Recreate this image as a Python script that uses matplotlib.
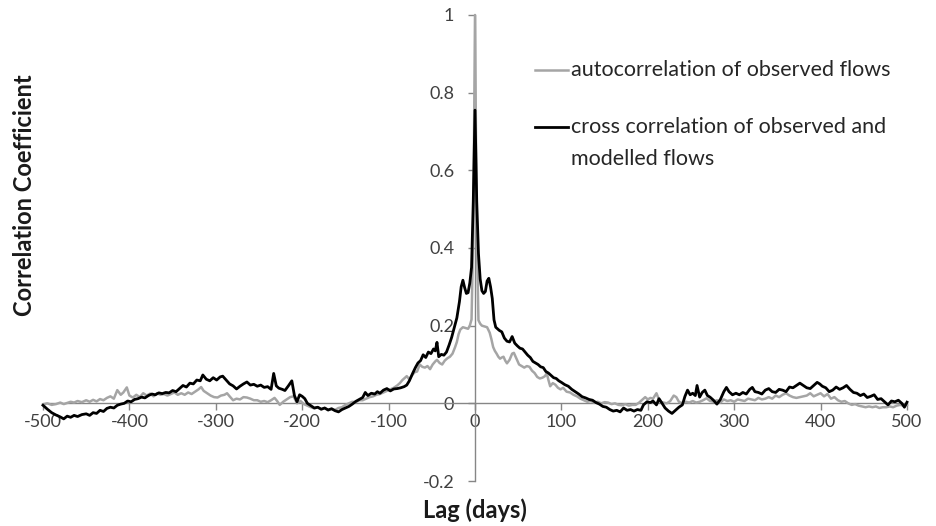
import matplotlib
matplotlib.use("Agg")
import numpy as np
from matplotlib import pyplot as plt
from matplotlib.lines import Line2D

plt.rcParams['font.family'] = ['Lato', 'DejaVu Sans']
plt.rcParams['axes.unicode_minus'] = False

#%% data (lag in days, correlation coefficient)
cross_lag = [
    -500, -495, -490, -485, -480, -476, -472, -468, -464, -460, -455, -450, -446, -442, -438, -434,
    -430, -426, -422, -418, -414, -410, -406, -402, -398, -394, -390, -386, -382, -378, -374, -370,
    -366, -362, -358, -354, -350, -346, -342, -338, -334, -330, -326, -322, -318, -315, -311, -307,
    -303, -299, -295, -292, -288, -284, -280, -276, -272, -268, -264, -260, -256, -252, -248, -244,
    -240, -236, -233, -230, -227, -223, -220, -216, -212, -209, -206, -203, -200, -197, -194, -190,
    -186, -182, -178, -174, -170, -166, -162, -158, -154, -150, -146, -142, -138, -134, -130, -127,
    -124, -120, -116, -113, -110, -106, -102, -98, -94, -90, -86, -82, -79, -76, -72, -69,
    -66, -63, -60, -57, -54, -51, -48, -46, -44, -42, -39, -36, -33, -30, -27, -24,
    -21, -18, -16, -14, -12, -10, -8, -6, -4, -2, 0, 2, 4, 6, 8, 10,
    12, 14, 16, 18, 20, 22, 24, 26, 28, 31, 34, 37, 40, 43, 46, 49,
    52, 55, 58, 61, 64, 67, 70, 73, 76, 79, 82, 85, 88, 91, 94, 97,
    100, 104, 108, 112, 116, 120, 124, 128, 132, 136, 140, 144, 148, 152, 156, 160,
    164, 168, 172, 176, 180, 184, 188, 192, 195, 199, 203, 206, 210, 213, 216, 220,
    224, 228, 232, 236, 240, 243, 246, 249, 252, 255, 257, 260, 263, 266, 269, 272,
    276, 280, 284, 288, 291, 294, 298, 302, 306, 310, 314, 318, 321, 324, 328, 332,
    336, 340, 344, 348, 352, 356, 360, 364, 368, 372, 376, 380, 384, 388, 392, 396,
    399, 402, 406, 410, 414, 418, 422, 426, 430, 434, 438, 442, 446, 450, 454, 458,
    462, 466, 470, 474, 478, 482, 486, 490, 494, 497, 500]
cross_val = [
    -0.005, -0.015, -0.024, -0.030, -0.035, -0.040, -0.033, -0.036, -0.031, -0.034, -0.029, -0.027, -0.031, -0.024, -0.026, -0.018,
    -0.021, -0.013, -0.010, -0.012, -0.005, -0.002, 0.000, 0.006, 0.004, 0.010, 0.012, 0.016, 0.014, 0.020, 0.024, 0.022,
    0.027, 0.025, 0.028, 0.027, 0.033, 0.030, 0.038, 0.046, 0.042, 0.052, 0.050, 0.060, 0.058, 0.073, 0.062, 0.058,
    0.066, 0.060, 0.068, 0.070, 0.060, 0.050, 0.045, 0.037, 0.044, 0.050, 0.055, 0.047, 0.049, 0.044, 0.047, 0.041,
    0.043, 0.036, 0.077, 0.045, 0.039, 0.036, 0.033, 0.045, 0.058, 0.020, 0.004, 0.022, 0.018, 0.012, 0.000, -0.006,
    -0.012, -0.010, -0.015, -0.012, -0.017, -0.014, -0.019, -0.022, -0.016, -0.012, -0.008, -0.002, 0.005, 0.010, 0.015, 0.028,
    0.020, 0.026, 0.024, 0.030, 0.026, 0.034, 0.038, 0.032, 0.037, 0.038, 0.040, 0.043, 0.047, 0.058, 0.078, 0.092,
    0.104, 0.110, 0.125, 0.118, 0.132, 0.128, 0.140, 0.135, 0.157, 0.120, 0.126, 0.124, 0.132, 0.150, 0.170, 0.195,
    0.220, 0.262, 0.300, 0.317, 0.298, 0.283, 0.285, 0.310, 0.350, 0.520, 0.755, 0.520, 0.386, 0.320, 0.290, 0.283,
    0.288, 0.315, 0.322, 0.300, 0.270, 0.215, 0.196, 0.192, 0.188, 0.184, 0.168, 0.160, 0.158, 0.172, 0.155, 0.148,
    0.142, 0.140, 0.132, 0.124, 0.118, 0.108, 0.104, 0.100, 0.094, 0.092, 0.082, 0.078, 0.072, 0.066, 0.064, 0.058,
    0.054, 0.048, 0.044, 0.036, 0.030, 0.024, 0.017, 0.014, 0.010, 0.008, 0.002, -0.002, -0.008, -0.010, -0.016, -0.020,
    -0.018, -0.022, -0.012, -0.018, -0.016, -0.020, -0.016, -0.018, -0.004, 0.004, 0.002, 0.006, -0.004, 0.012, 0.002, -0.012,
    -0.020, -0.026, -0.018, -0.010, -0.004, 0.018, 0.034, 0.022, 0.026, 0.020, 0.046, 0.016, 0.028, 0.034, 0.020, 0.016,
    0.008, -0.002, 0.010, 0.030, 0.041, 0.030, 0.022, 0.026, 0.022, 0.028, 0.024, 0.036, 0.041, 0.030, 0.028, 0.024,
    0.034, 0.038, 0.030, 0.028, 0.036, 0.034, 0.030, 0.042, 0.040, 0.046, 0.052, 0.046, 0.040, 0.038, 0.046, 0.054,
    0.050, 0.044, 0.040, 0.030, 0.034, 0.042, 0.036, 0.040, 0.046, 0.036, 0.028, 0.026, 0.020, 0.024, 0.015, 0.018,
    0.022, 0.010, 0.012, 0.004, -0.004, 0.006, 0.004, 0.008, 0.000, -0.010, 0.003]

auto_lag = [
    -500, -495, -490, -485, -480, -476, -472, -468, -464, -460, -455, -450, -446, -442, -438, -434,
    -430, -426, -422, -418, -414, -410, -407, -403, -400, -396, -392, -388, -384, -380, -376, -372,
    -368, -364, -360, -356, -352, -348, -344, -340, -336, -332, -328, -324, -320, -317, -314, -310,
    -306, -302, -298, -294, -290, -287, -284, -280, -276, -272, -268, -264, -260, -256, -252, -248,
    -244, -240, -236, -232, -229, -226, -222, -218, -214, -210, -206, -202, -198, -194, -190, -186,
    -182, -178, -174, -170, -166, -162, -158, -154, -150, -146, -142, -138, -134, -130, -126, -122,
    -118, -114, -110, -106, -102, -98, -94, -90, -87, -84, -81, -79, -76, -73, -70, -67,
    -64, -61, -58, -55, -52, -49, -46, -44, -41, -38, -35, -32, -29, -26, -23, -21,
    -19, -17, -14, -11, -8, -6, -4, -2, 0, 2, 4, 6, 8, 11, 14, 17,
    19, 21, 23, 25, 27, 29, 31, 33, 35, 37, 40, 43, 45, 48, 51, 54,
    57, 60, 63, 66, 69, 72, 75, 78, 81, 83, 85, 87, 90, 93, 96, 99,
    102, 106, 110, 114, 118, 122, 126, 130, 134, 138, 142, 146, 150, 154, 158, 162,
    166, 170, 174, 178, 182, 186, 190, 194, 197, 200, 203, 206, 210, 214, 218, 222,
    226, 230, 233, 236, 240, 244, 248, 252, 256, 260, 264, 268, 272, 276, 280, 284,
    288, 292, 296, 300, 304, 308, 312, 316, 320, 324, 328, 332, 336, 340, 344, 348,
    352, 356, 360, 364, 368, 372, 376, 380, 384, 388, 392, 396, 400, 404, 408, 412,
    416, 420, 424, 428, 432, 436, 440, 444, 448, 452, 456, 460, 464, 468, 472, 476,
    480, 484, 488, 492, 496, 500]
auto_val = [
    -0.003, 0.000, -0.004, -0.002, 0.002, -0.002, 0.001, 0.004, 0.002, 0.006, 0.003, 0.008, 0.004, 0.009, 0.005, 0.011,
    0.008, 0.014, 0.018, 0.012, 0.034, 0.022, 0.028, 0.041, 0.020, 0.015, 0.022, 0.016, 0.026, 0.020, 0.025, 0.018,
    0.026, 0.022, 0.024, 0.020, 0.024, 0.028, 0.022, 0.026, 0.022, 0.028, 0.024, 0.030, 0.036, 0.042, 0.032, 0.026,
    0.020, 0.016, 0.015, 0.020, 0.022, 0.026, 0.018, 0.008, 0.012, 0.010, 0.016, 0.015, 0.012, 0.008, 0.008, 0.004,
    0.006, 0.003, 0.008, 0.014, 0.006, -0.004, 0.004, 0.010, 0.016, 0.018, 0.000, 0.006, -0.002, -0.006, -0.010, -0.013,
    -0.010, -0.016, -0.012, -0.018, -0.014, -0.017, -0.012, -0.010, -0.004, 0.000, 0.004, 0.003, 0.008, 0.008, 0.012, 0.016,
    0.018, 0.022, 0.024, 0.028, 0.032, 0.036, 0.040, 0.046, 0.052, 0.060, 0.066, 0.070, 0.062, 0.072, 0.080, 0.082,
    0.100, 0.094, 0.092, 0.096, 0.088, 0.100, 0.108, 0.112, 0.104, 0.100, 0.110, 0.116, 0.120, 0.128, 0.145, 0.158,
    0.178, 0.190, 0.196, 0.194, 0.192, 0.200, 0.216, 0.440, 1.000, 0.440, 0.214, 0.205, 0.200, 0.198, 0.196, 0.182,
    0.165, 0.145, 0.135, 0.128, 0.120, 0.115, 0.118, 0.120, 0.110, 0.103, 0.112, 0.128, 0.130, 0.115, 0.100, 0.096,
    0.092, 0.096, 0.094, 0.084, 0.078, 0.068, 0.064, 0.066, 0.070, 0.078, 0.060, 0.044, 0.052, 0.048, 0.040, 0.036,
    0.040, 0.030, 0.028, 0.022, 0.018, 0.012, 0.008, 0.004, 0.006, 0.002, 0.004, 0.000, 0.003, 0.002, -0.002, 0.000,
    -0.004, -0.005, -0.002, -0.006, -0.004, -0.004, 0.002, 0.010, 0.016, 0.010, 0.014, 0.012, 0.026, 0.004, 0.002, 0.000,
    0.006, 0.020, 0.016, 0.004, 0.000, 0.004, 0.002, 0.006, 0.002, 0.004, 0.008, 0.013, 0.006, 0.004, 0.008, 0.002,
    0.010, 0.006, 0.008, 0.004, 0.010, 0.008, 0.006, 0.012, 0.010, 0.008, 0.014, 0.010, 0.012, 0.016, 0.012, 0.020,
    0.016, 0.022, 0.026, 0.020, 0.016, 0.014, 0.016, 0.018, 0.020, 0.026, 0.018, 0.022, 0.026, 0.018, 0.024, 0.012,
    0.016, 0.008, 0.004, 0.006, 0.000, -0.004, -0.002, -0.006, -0.008, -0.010, -0.008, -0.010, -0.008, -0.012, -0.010, -0.010,
    -0.008, -0.010, -0.006, -0.004, -0.006, -0.004]

x_ticks = [-500, -400, -300, -200, -100, 0, 100, 200, 300, 400, 500]
y_ticks = [-0.2, 0, 0.2, 0.4, 0.6, 0.8, 1]
legend_labels = ["autocorrelation of observed flows",
                 "cross correlation of observed and", "modelled flows"]

#%% figure
fig = plt.figure(figsize=(9.36, 5.26), dpi=100)
ax = fig.add_axes([43 / 936, 1 - 481 / 526, 864 / 936, 466 / 526])

axis_grey = '#868686'
auto_colour = '#a5a5a5'

ax.plot(auto_lag, auto_val, color=auto_colour, lw=1.8, zorder=3, clip_on=False)
ax.plot(cross_lag, cross_val, color='black', lw=2.0, zorder=4, clip_on=False)

ax.set_xlim(-500, 500)
ax.set_ylim(-0.2, 1)

# axes cross at the origin, like the spreadsheet original
ax.spines['left'].set_position(('data', 0))
ax.spines['bottom'].set_position(('data', 0))
ax.spines['top'].set_visible(False)
ax.spines['right'].set_visible(False)
for side in ['left', 'bottom']:
    ax.spines[side].set_color(axis_grey)
    ax.spines[side].set_linewidth(1.0)
    ax.spines[side].set_zorder(2)

ax.set_xticks(x_ticks)
ax.set_xticklabels([str(t) for t in x_ticks])
ax.set_yticks(y_ticks)
ax.set_yticklabels([f"{t:g}" for t in y_ticks])
ax.tick_params(axis='both', direction='out', length=5, width=1.0, color=axis_grey,
               labelsize=13, labelcolor='#404040')
ax.tick_params(axis='y', pad=10)
ax.tick_params(axis='x', pad=3)

# axis titles
fig.text(25 / 936, 1 - 195 / 526, "Correlation Coefficient", rotation=90,
         ha='center', va='center', fontsize=17, fontweight='bold', color='#1a1a1a')
fig.text(475 / 936, 1 - 510 / 526, "Lag (days)", ha='center', va='center',
         fontsize=17, fontweight='bold', color='#1a1a1a')

# legend drawn by hand so the black handle sits on the first text line
legend_size = 15.5
fig.add_artist(Line2D([535 / 936, 568 / 936], [1 - 70 / 526] * 2, color=auto_colour, lw=1.8))
fig.text(571 / 936, 1 - 70 / 526, legend_labels[0], ha='left', va='center',
         fontsize=legend_size, color='#262626')
fig.add_artist(Line2D([535 / 936, 568 / 936], [1 - 127 / 526] * 2, color='black', lw=2.0))
fig.text(571 / 936, 1 - 127 / 526, legend_labels[1], ha='left', va='center',
         fontsize=legend_size, color='#262626')
fig.text(571 / 936, 1 - 159 / 526, legend_labels[2], ha='left', va='center',
         fontsize=legend_size, color='#262626')

fig.savefig('out.png', dpi=100)
